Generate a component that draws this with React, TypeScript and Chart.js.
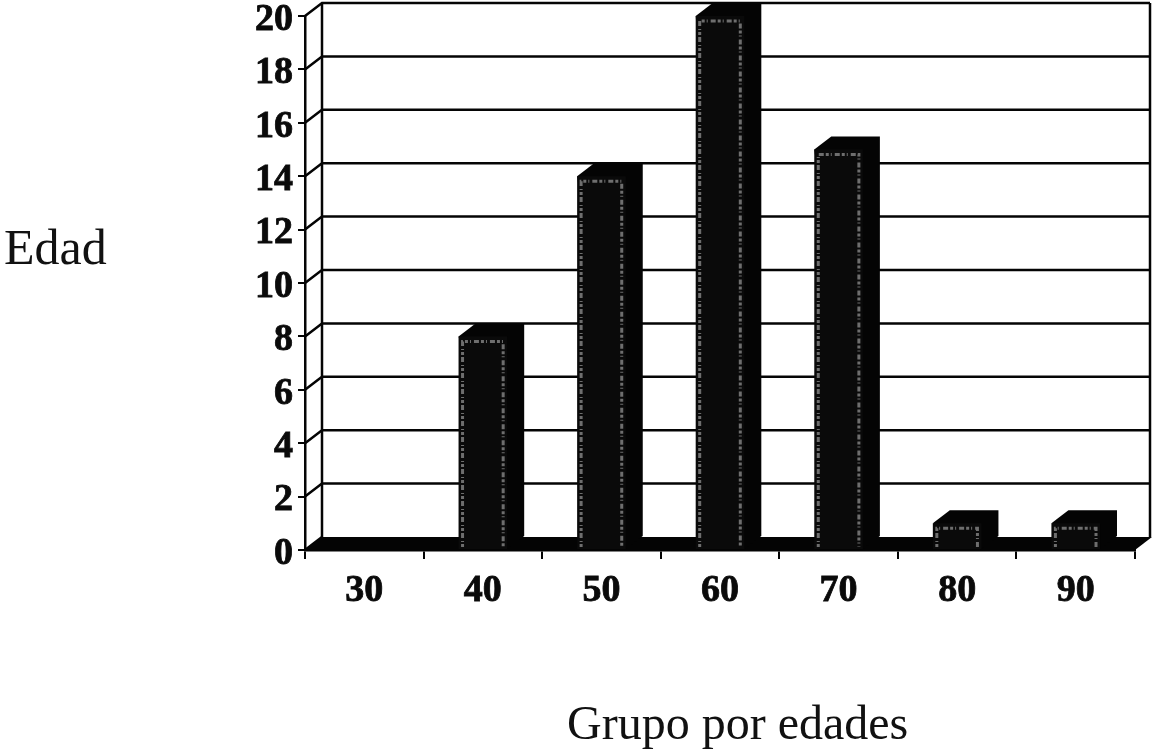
import React, { useEffect, useRef } from "react";
import { Chart, registerables } from "chart.js";

Chart.register(...registerables);

const ageGroups = ["30", "40", "50", "60", "70", "80", "90"];
const counts = [0, 8, 14, 20, 15, 1, 1];
const yTitle = "Edad";
const xTitle = "Grupo por edades";

const DEPTH_X = 17;
const DEPTH_Y = 13;
const INK = "#040404";
const SERIF = '"Liberation Serif", serif';

// Draws the back wall, floor and the side and top faces of each column, so the
// flat Chart.js bars read as a pseudo-3D column chart.
const depthPlugin = {
  id: "depth",
  beforeDatasetsDraw(chart: any) {
    const { ctx, chartArea: a, scales } = chart;
    const y = scales.y;
    ctx.save();
    ctx.strokeStyle = INK;
    ctx.lineWidth = 2.5;

    // Grid on the back wall, with its diagonal link to the axis tick
    y.ticks.forEach((t: any) => {
      const py = y.getPixelForValue(t.value);
      ctx.beginPath();
      ctx.moveTo(a.left, py);
      ctx.lineTo(a.left + DEPTH_X, py - DEPTH_Y);
      if (t.value > 0) ctx.lineTo(a.right + DEPTH_X - 2, py - DEPTH_Y);
      ctx.stroke();
    });
    ctx.beginPath();
    ctx.moveTo(a.left + DEPTH_X, a.top - DEPTH_Y);
    ctx.lineTo(a.left + DEPTH_X, a.bottom - DEPTH_Y);
    ctx.moveTo(a.right + DEPTH_X - 2, a.top - DEPTH_Y);
    ctx.lineTo(a.right + DEPTH_X - 2, a.bottom - DEPTH_Y);
    ctx.stroke();

    // Floor
    ctx.fillStyle = INK;
    ctx.beginPath();
    ctx.moveTo(a.left, a.bottom);
    ctx.lineTo(a.left + DEPTH_X, a.bottom - DEPTH_Y);
    ctx.lineTo(a.right + DEPTH_X, a.bottom - DEPTH_Y);
    ctx.lineTo(a.right, a.bottom);
    ctx.closePath();
    ctx.fill();

    // Top and side faces of the columns
    chart.getDatasetMeta(0).data.forEach((bar: any, i: number) => {
      if (!counts[i]) return;
      const { x, y: top, base, width } = bar.getProps(["x", "y", "base", "width"], true);
      const l = x - width / 2;
      const r = x + width / 2;
      ctx.beginPath();
      ctx.moveTo(l, top);
      ctx.lineTo(l + DEPTH_X, top - DEPTH_Y);
      ctx.lineTo(r + DEPTH_X, top - DEPTH_Y);
      ctx.lineTo(r + DEPTH_X, base - DEPTH_Y);
      ctx.lineTo(r, base);
      ctx.closePath();
      ctx.fill();
    });
    ctx.restore();
  },
  afterDatasetsDraw(chart: any) {
    const { ctx } = chart;
    ctx.save();
    // Speckled light rim just inside each column's front face
    chart.getDatasetMeta(0).data.forEach((bar: any, i: number) => {
      if (!counts[i]) return;
      const { x, y: top, base, width } = bar.getProps(["x", "y", "base", "width"], true);
      ctx.strokeStyle = "#6e6e6e";
      ctx.lineWidth = 3;
      ctx.setLineDash([3, 2, 1, 3, 5, 2]);
      ctx.beginPath();
      ctx.moveTo(x - width / 2 + 4, base - 2);
      ctx.lineTo(x - width / 2 + 4, top + 5);
      ctx.lineTo(x + width / 2 - 4, top + 5);
      ctx.lineTo(x + width / 2 - 4, base - 2);
      ctx.stroke();
    });
    ctx.restore();
  },
  afterDraw(chart: any) {
    const { ctx } = chart;
    ctx.save();
    ctx.fillStyle = "#111";
    ctx.textBaseline = "alphabetic";
    ctx.textAlign = "left";
    ctx.font = `50px ${SERIF}`;
    ctx.fillText(yTitle, 4, 264);
    ctx.font = `48px ${SERIF}`;
    ctx.fillText(xTitle, 567, 739);
    ctx.restore();
  },
};

export default function App() {
  const ref = useRef<HTMLCanvasElement>(null);

  useEffect(() => {
    if (!ref.current) return;
    const chart = new Chart(ref.current, {
      type: "bar",
      data: {
        labels: ageGroups,
        datasets: [
          {
            data: counts,
            backgroundColor: "#0a0a0a",
            barPercentage: 0.41,
            categoryPercentage: 1,
          },
        ],
      },
      options: {
        responsive: false,
        animation: false,
        layout: { padding: { top: 16, right: 18, left: 0, bottom: 0 } },
        plugins: { legend: { display: false }, tooltip: { enabled: false } },
        scales: {
          x: {
            afterFit: (s: any) => {
              s.height = 202;
              s.paddingLeft = 0;
              s.paddingRight = 0;
            },
            border: { color: INK, width: 2.5 },
            grid: { drawOnChartArea: false, color: INK, lineWidth: 2, tickLength: 9 },
            ticks: {
              color: "#0a0a0a",
              padding: 9,
              maxRotation: 0,
              textStrokeColor: "#0a0a0a",
              textStrokeWidth: 0.8,
              font: { family: SERIF, size: 38, weight: "bold" },
            },
          },
          y: {
            min: 0,
            max: 20,
            afterFit: (s: any) => {
              s.width = 305;
              s.paddingTop = 0;
              s.paddingBottom = 0;
            },
            border: { color: INK, width: 2.5 },
            grid: { drawOnChartArea: false, color: INK, lineWidth: 2, tickLength: 7 },
            ticks: {
              stepSize: 2,
              color: "#0a0a0a",
              padding: 5,
              textStrokeColor: "#0a0a0a",
              textStrokeWidth: 0.8,
              // An empty first line nudges each number just below its tick
              callback: (v: any) => ["", String(v)],
              font: { family: SERIF, size: 38, weight: "bold", lineHeight: "8px" },
            },
          },
        },
      },
      plugins: [depthPlugin],
    });
    return () => chart.destroy();
  }, []);

  return (
    <canvas
      ref={ref}
      width={1153}
      height={752}
      style={{ position: "absolute", left: 0, top: 0, display: "block", background: "#fff" }}
    />
  );
}
